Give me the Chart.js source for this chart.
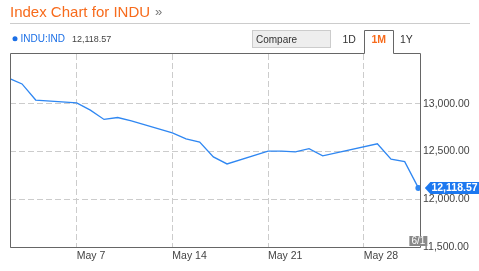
<!DOCTYPE html>
<html>
  <head>
    <meta charset="utf-8" />
    <title>Index Chart for INDU</title>
    <script src="https://cdn.jsdelivr.net/npm/chart.js"></script>
    <style>
      body {
        margin: 0;
        background: #fff;
      }
      canvas {
        display: block;
      }
    </style>
  </head>

  <body>
    <canvas id="indu" width="479" height="271"></canvas>

    <script type="text/javascript">
      // day of May for each close (Jun 1 = 32)
      var days = [2, 3, 4, 7, 8, 9, 10, 11, 14, 15, 16, 17, 18, 21, 22, 23, 24, 25, 29, 30, 31, 32];
      var closes = [
        13268.57, 13206.59, 13038.27, 13008.53, 12932.09, 12835.06, 12855.04, 12820.6,
        12695.35, 12632.0, 12598.55, 12442.49, 12369.38, 12504.48, 12502.81, 12496.15,
        12529.75, 12454.83, 12580.69, 12419.86, 12393.45, 12118.57,
      ];
      var xTickDays = [7, 14, 21, 28];
      var xTickLabels = ["May 7", "May 14", "May 21", "May 28"];
      var yTickValues = [11500, 12000, 12500, 13000];
      var lastLabel = "6/1";

      const FONT = "'Liberation Sans', Arial, sans-serif";
      const ORANGE = "#f76b1c";
      const BLUE = "#2f87f2";
      const FRAME = "#666";

      function fmt(v) {
        return v.toLocaleString("en-US", { minimumFractionDigits: 2, maximumFractionDigits: 2 });
      }

      // header, tabs, frame and last-price tags
      const chrome = {
        id: "chrome",
        afterDraw(chart) {
          const ctx = chart.ctx;
          const a = chart.chartArea;
          const xs = chart.scales.x;
          const ys = chart.scales.y;
          ctx.save();

          // title
          ctx.fillStyle = ORANGE;
          ctx.font = "15px " + FONT;
          ctx.textBaseline = "alphabetic";
          ctx.fillText("Index Chart for INDU", 10, 17);
          ctx.fillStyle = "#777";
          ctx.font = "13px " + FONT;
          ctx.fillText("\u00bb", 155, 16);

          // separator
          ctx.strokeStyle = "#ccc";
          ctx.lineWidth = 1;
          ctx.beginPath();
          ctx.moveTo(10, 23.5);
          ctx.lineTo(470, 23.5);
          ctx.stroke();

          // legend row
          ctx.fillStyle = "#1b6fe6";
          ctx.beginPath();
          ctx.arc(15, 38.7, 2.5, 0, Math.PI * 2);
          ctx.fill();
          ctx.font = "10px " + FONT;
          ctx.fillText("INDU:IND", 20.5, 42);
          ctx.fillStyle = "#444";
          ctx.font = "9px " + FONT;
          ctx.fillText(fmt(closes[closes.length - 1]), 72, 42);

          // compare box
          ctx.fillStyle = "#eee";
          ctx.fillRect(252.5, 30.5, 78, 17);
          ctx.strokeStyle = "#ccc";
          ctx.strokeRect(252.5, 30.5, 78, 17);
          ctx.fillStyle = "#333";
          ctx.font = "10px " + FONT;
          ctx.fillText("Compare", 256, 42.5);

          // range tabs
          ctx.font = "10.5px " + FONT;
          ctx.fillText("1D", 342.5, 42.5);
          ctx.fillText("1Y", 400, 42.5);
          ctx.fillStyle = ORANGE;
          ctx.font = "bold 10.5px " + FONT;
          ctx.textAlign = "center";
          ctx.fillText("1M", 378.8, 42.5);
          ctx.textAlign = "left";

          // frame with the open tab
          ctx.strokeStyle = FRAME;
          ctx.beginPath();
          ctx.moveTo(a.left + 0.5, a.bottom + 0.5);
          ctx.lineTo(a.left + 0.5, 53.5);
          ctx.lineTo(364.5, 53.5);
          ctx.lineTo(364.5, 30.5);
          ctx.lineTo(393.5, 30.5);
          ctx.lineTo(393.5, 53.5);
          ctx.lineTo(a.right + 0.5, 53.5);
          ctx.lineTo(a.right + 0.5, a.bottom + 0.5);
          ctx.lineTo(a.left + 0.5, a.bottom + 0.5);
          ctx.stroke();

          // last price tag
          const n = closes.length - 1;
          const px = xs.getPixelForValue(days[n]);
          const py = ys.getPixelForValue(closes[n]);
          ctx.fillStyle = "#1c78f0";
          ctx.beginPath();
          ctx.moveTo(px + 6.5, py);
          ctx.lineTo(px + 12, py - 6);
          ctx.lineTo(479, py - 6);
          ctx.lineTo(479, py + 6);
          ctx.lineTo(px + 12, py + 6);
          ctx.closePath();
          ctx.fill();
          ctx.fillStyle = "#fff";
          ctx.font = "bold 10.5px " + FONT;
          ctx.textAlign = "center";
          ctx.textBaseline = "middle";
          ctx.fillText(fmt(closes[n]), 454.5, py + 0.5);

          // last date tag
          ctx.fillStyle = "#8a8a8a";
          ctx.fillRect(px - 9, a.bottom - 11, 18, 10);
          ctx.fillStyle = "#fff";
          ctx.font = "10px " + FONT;
          ctx.fillText(lastLabel, px, a.bottom - 5.5);
          ctx.restore();
        },
      };

      const induChart = new Chart(document.getElementById("indu"), {
        type: "line",
        data: {
          datasets: [
            {
              label: "INDU:IND",
              data: days.map((d, i) => ({ x: d, y: closes[i] })),
              borderColor: BLUE,
              backgroundColor: BLUE,
              borderWidth: 1.3,
              tension: 0,
              fill: false,
              pointRadius: (c) => (c.dataIndex === closes.length - 1 ? 3 : 0),
              pointBorderWidth: 0,
              pointBackgroundColor: BLUE,
            },
          ],
        },
        options: {
          responsive: false,
          animation: false,
          events: [],
          layout: { padding: { top: 54, left: 10, right: 0, bottom: 0 } },
          plugins: {
            legend: { display: false },
            tooltip: { enabled: false },
          },
          scales: {
            x: {
              type: "linear",
              min: 2.12,
              max: 32.12,
              afterBuildTicks: (s) => {
                s.ticks = xTickDays.map((v) => ({ value: v }));
              },
              afterFit: (s) => {
                s.height = 24;
              },
              grid: { color: "#ccc", drawTicks: false },
              border: { display: false, dash: [6, 3] },
              ticks: {
                align: "start",
                maxRotation: 0,
                autoSkip: false,
                padding: 3,
                color: "#444",
                font: { family: FONT, size: 10.5 },
                callback: (v, i) => xTickLabels[i],
              },
            },
            y: {
              position: "right",
              min: 11500,
              max: 13520,
              afterBuildTicks: (s) => {
                s.ticks = yTickValues.map((v) => ({ value: v }));
              },
              afterFit: (s) => {
                s.width = 59;
              },
              grid: { color: "#ccc", drawTicks: false },
              border: { display: false, dash: [6, 3] },
              ticks: {
                padding: 3,
                color: "#444",
                font: { family: FONT, size: 10.5 },
                callback: (v) => fmt(v),
              },
            },
          },
        },
        plugins: [chrome],
      });
    </script>
  </body>
</html>
